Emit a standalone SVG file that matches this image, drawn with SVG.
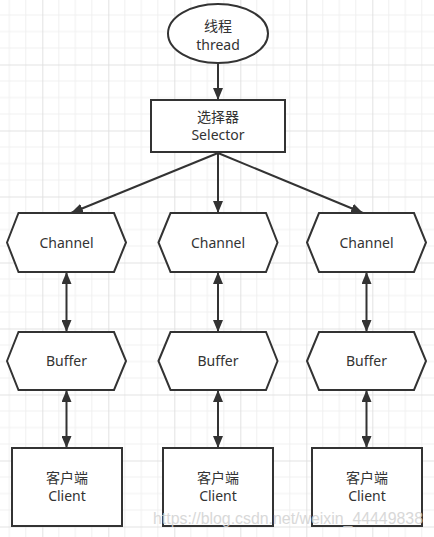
<svg xmlns="http://www.w3.org/2000/svg" width="434" height="537" viewBox="0 0 434 537">
<style>
.n{fill:#fff;stroke:#333;stroke-width:2}
.t{font-family:"Noto Sans","Noto Sans CJK SC",sans-serif;font-size:14px;fill:#333;text-anchor:middle}
.c{stroke:#333;stroke-width:2;fill:none}
</style>
<defs>
<pattern id="grid" patternUnits="userSpaceOnUse" x="-23.7" y="-1.5" width="66" height="66">
<path d="M16.5 0V66M33 0V66M49.5 0V66M0 16.5H66M0 33H66M0 49.5H66" stroke="#f0f0f0" stroke-width="1" fill="none"/>
<path d="M0.5 0V66M0 0.5H66" stroke="#e2e2e2" stroke-width="1" fill="none"/>
</pattern>
<marker id="ah" viewBox="0 0 12 10" refX="12" refY="5" markerWidth="12" markerHeight="10" markerUnits="userSpaceOnUse" orient="auto-start-reverse">
<path d="M0 0L12 5L0 10z" fill="#333"/>
</marker>
</defs>
<rect width="434" height="537" fill="#fff"/>
<rect width="434" height="537" fill="url(#grid)"/>
<g id="connectors">
<line class="c" x1="218" y1="63" x2="218" y2="100" marker-end="url(#ah)"/>
<line class="c" x1="218" y1="153" x2="71" y2="213" marker-end="url(#ah)"/>
<line class="c" x1="218" y1="153" x2="218" y2="213" marker-end="url(#ah)"/>
<line class="c" x1="218" y1="153" x2="363" y2="213" marker-end="url(#ah)"/>
<line class="c" x1="66.5" y1="272" x2="66.5" y2="332" marker-start="url(#ah)" marker-end="url(#ah)"/>
<line class="c" x1="218" y1="272" x2="218" y2="332" marker-start="url(#ah)" marker-end="url(#ah)"/>
<line class="c" x1="366.5" y1="272" x2="366.5" y2="332" marker-start="url(#ah)" marker-end="url(#ah)"/>
<line class="c" x1="66.5" y1="390" x2="66.5" y2="448" marker-start="url(#ah)" marker-end="url(#ah)"/>
<line class="c" x1="218" y1="390" x2="218" y2="448" marker-start="url(#ah)" marker-end="url(#ah)"/>
<line class="c" x1="366.5" y1="390" x2="366.5" y2="448" marker-start="url(#ah)" marker-end="url(#ah)"/>
</g>
<g id="thread">
<ellipse class="n" cx="218" cy="33.5" rx="50" ry="29.5"/>
<text class="t" x="218" y="31">线程</text>
<text class="t" x="218" y="50">thread</text>
</g>
<g id="selector">
<rect class="n" x="151" y="100" width="134" height="52"/>
<text class="t" x="218" y="122">选择器</text>
<text class="t" x="218" y="140">Selector</text>
</g>
<g id="channel1">
<polygon class="n" points="7,242.5 18.5,213 114,213 126,242.5 114,272 18.5,272"/>
<text class="t" x="66.5" y="247.5">Channel</text>
</g>
<g id="channel2">
<polygon class="n" points="158.5,242.5 170.5,213 266,213 277.5,242.5 266,272 170.5,272"/>
<text class="t" x="218" y="247.5">Channel</text>
</g>
<g id="channel3">
<polygon class="n" points="307,242.5 319,213 414,213 426,242.5 414,272 319,272"/>
<text class="t" x="366.5" y="247.5">Channel</text>
</g>
<g id="buffer1">
<polygon class="n" points="7,361 18.5,332 114,332 126,361 114,390 18.5,390"/>
<text class="t" x="66.5" y="366">Buffer</text>
</g>
<g id="buffer2">
<polygon class="n" points="158.5,361 170.5,332 266,332 277.5,361 266,390 170.5,390"/>
<text class="t" x="218" y="366">Buffer</text>
</g>
<g id="buffer3">
<polygon class="n" points="307,361 319,332 414,332 426,361 414,390 319,390"/>
<text class="t" x="366.5" y="366">Buffer</text>
</g>
<g id="client1">
<rect class="n" x="12" y="448" width="110" height="78"/>
<text class="t" x="67" y="483">客户端</text>
<text class="t" x="67" y="501">Client</text>
</g>
<g id="client2">
<rect class="n" x="163" y="448" width="110" height="78"/>
<text class="t" x="218" y="483">客户端</text>
<text class="t" x="218" y="501">Client</text>
</g>
<g id="client3">
<rect class="n" x="312" y="448" width="110" height="78"/>
<text class="t" x="367" y="483">客户端</text>
<text class="t" x="367" y="501">Client</text>
</g>
<text x="153" y="524" font-family="'Liberation Sans',Arial,sans-serif" font-size="16" fill="#d2d2d2" opacity="0.85" textLength="270" lengthAdjust="spacingAndGlyphs">https://blog.csdn.net/weixin_44449838</text>
</svg>
